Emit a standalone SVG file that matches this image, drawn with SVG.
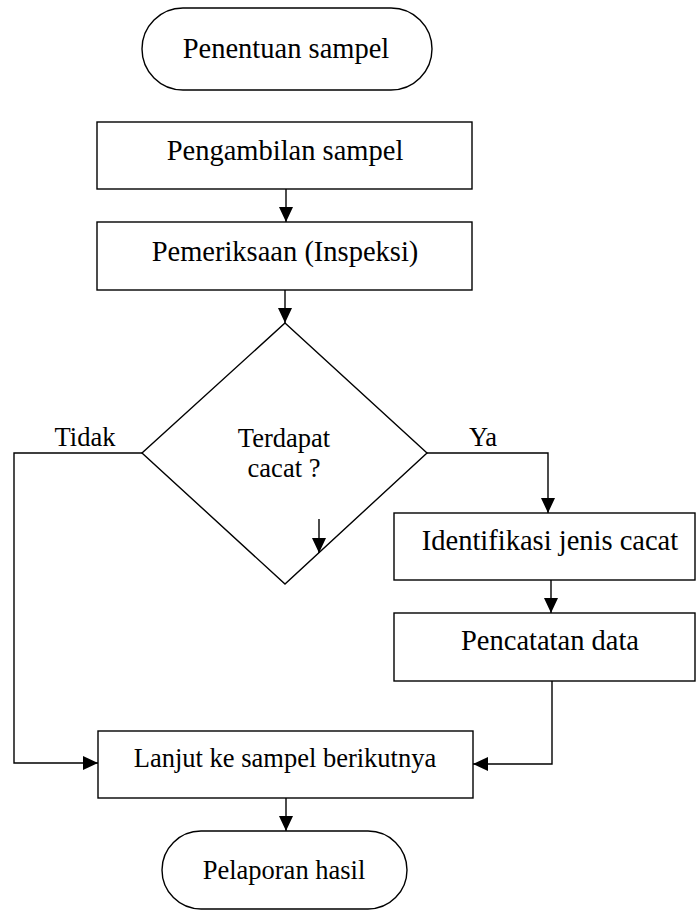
<svg xmlns="http://www.w3.org/2000/svg" width="696" height="911" viewBox="0 0 696 911">
<style>
.shape{fill:#fff;stroke:#000;stroke-width:1.4}
.line{fill:none;stroke:#000;stroke-width:1.4}
.t{fill:#000;text-anchor:middle}
</style>
<defs>
<marker id="arr" markerUnits="userSpaceOnUse" markerWidth="16" markerHeight="14" viewBox="0 0 16 14" refX="15" refY="7" orient="auto">
<path d="M0,0 L15,7 L0,14 Z" fill="#000"/>
</marker>
</defs>
<rect width="696" height="911" fill="#fff"/>
<g id="start">
<rect class="shape" x="142" y="8" width="290" height="82" rx="41" ry="41"/>
<text class="t" style="font-family:'Liberation Serif',serif;font-size:28.5px" x="286" y="58">Penentuan sampel</text>
</g>
<g id="pengambilan">
<rect class="shape" x="97" y="122" width="375" height="67"/>
<text class="t" style="font-family:'Liberation Serif',serif;font-size:28.5px" x="285" y="160">Pengambilan sampel</text>
</g>
<g id="pemeriksaan">
<rect class="shape" x="97" y="222" width="375" height="68"/>
<text class="t" style="font-family:'Liberation Serif',serif;font-size:28.5px" x="285" y="261">Pemeriksaan (Inspeksi)</text>
</g>
<g id="decision">
<polygon class="shape" points="285,323 427,453 285,584 142,453"/>
<text class="t" style="font-family:'Liberation Serif',serif;font-size:26.5px" x="284" y="447">Terdapat</text>
<text class="t" style="font-family:'Liberation Serif',serif;font-size:26.5px" x="284" y="477">cacat ?</text>
</g>
<g id="identifikasi">
<rect class="shape" x="394" y="513" width="301" height="67"/>
<text class="t" style="font-family:'Liberation Serif',serif;font-size:28.5px" x="550" y="550">Identifikasi jenis cacat</text>
</g>
<g id="pencatatan">
<rect class="shape" x="394" y="613" width="301" height="68"/>
<text class="t" style="font-family:'Liberation Serif',serif;font-size:28.5px" x="550" y="650">Pencatatan data</text>
</g>
<g id="lanjut">
<rect class="shape" x="98" y="731" width="375" height="67"/>
<text class="t" style="font-family:'Liberation Serif',serif;font-size:26.5px" x="285" y="767">Lanjut ke sampel berikutnya</text>
</g>
<g id="end">
<rect class="shape" x="162" y="831" width="245" height="78" rx="39" ry="39"/>
<text class="t" style="font-family:'Liberation Serif',serif;font-size:26.5px" x="284" y="879">Pelaporan hasil</text>
</g>
<g id="connectors">
<path class="line" d="M286,189 V222" marker-end="url(#arr)"/>
<path class="line" d="M285,290 V323" marker-end="url(#arr)"/>
<path class="line" d="M142,453 H14 V763 H98" marker-end="url(#arr)"/>
<path class="line" d="M427,453 H548 V513" marker-end="url(#arr)"/>
<path class="line" d="M319,519 V553" marker-end="url(#arr)"/>
<path class="line" d="M551,580 V613" marker-end="url(#arr)"/>
<path class="line" d="M552,681 V764 H473" marker-end="url(#arr)"/>
<path class="line" d="M286,798 V831" marker-end="url(#arr)"/>
<text class="t" style="font-family:'Liberation Serif',serif;font-size:26.5px" x="85" y="446">Tidak</text>
<text class="t" style="font-family:'Liberation Serif',serif;font-size:26.5px" x="483" y="446">Ya</text>
</g>
</svg>
